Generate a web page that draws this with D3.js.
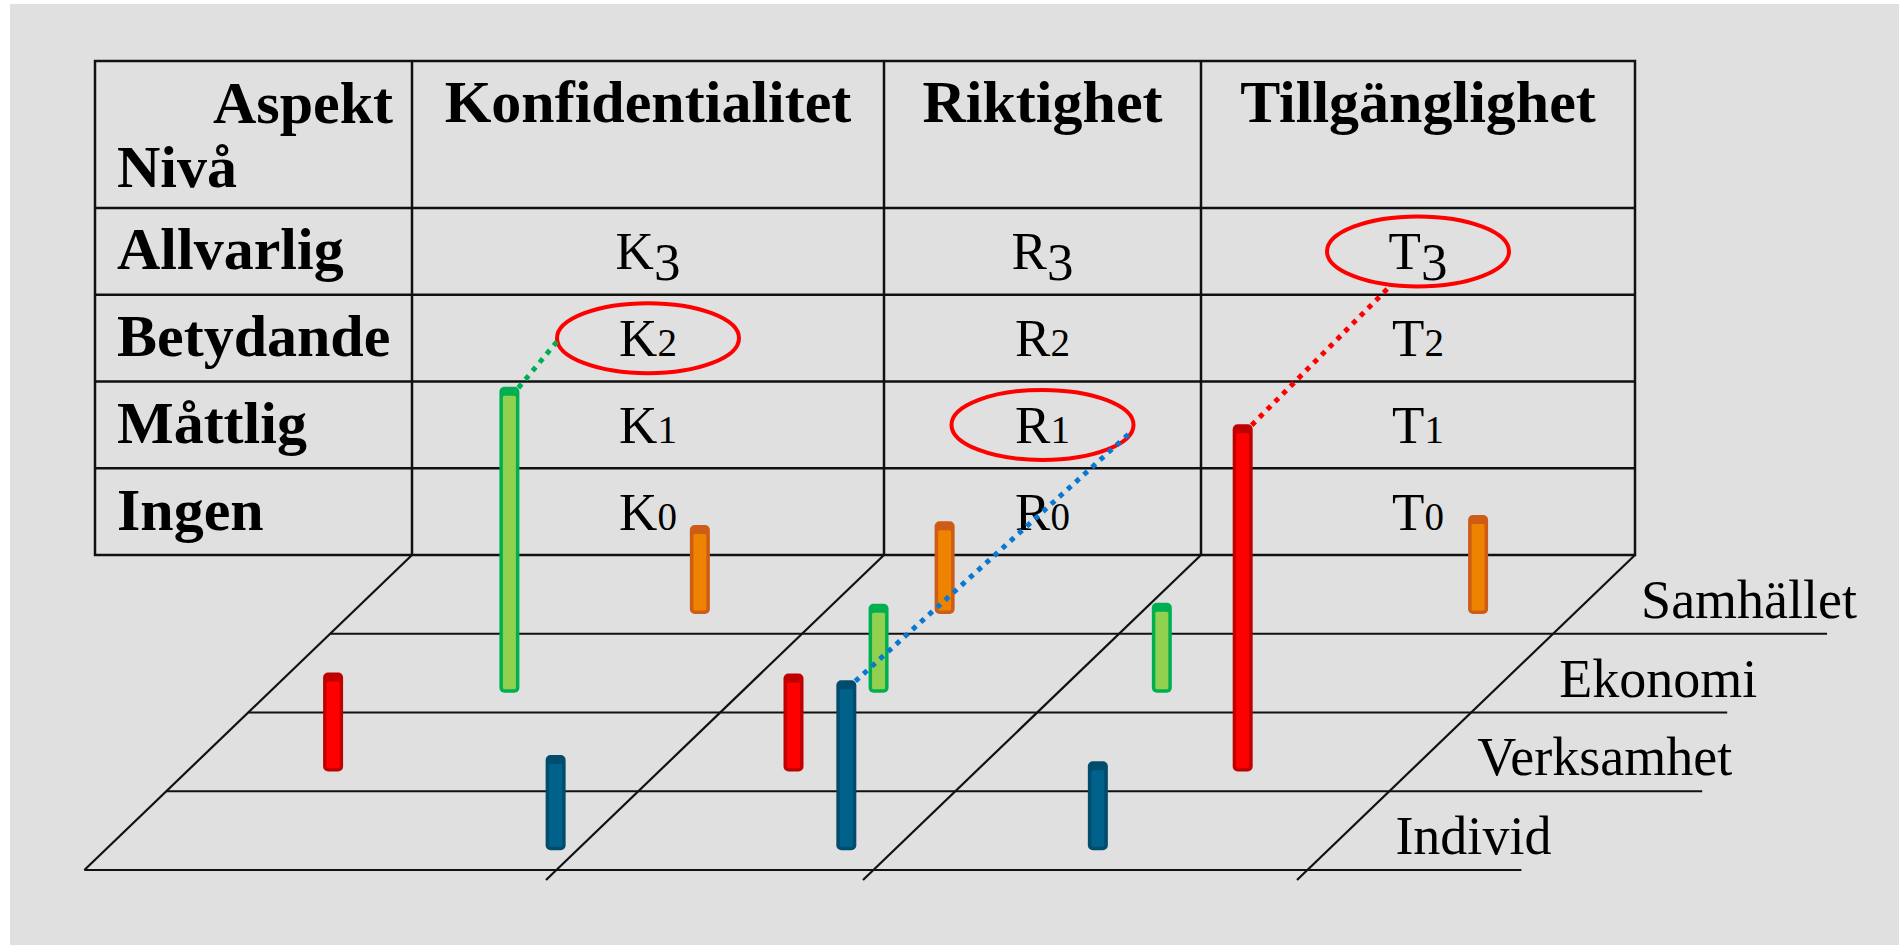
<!DOCTYPE html>
<html>
<head>
<meta charset="utf-8">
<script src="https://cdn.jsdelivr.net/npm/d3@7"></script>
<style>
  body { margin: 0; background: #fff; }
  svg { display: block; }
  text { font-family: "Liberation Serif", "DejaVu Serif", serif; fill: #000; }
</style>
</head>
<body>
<div id="chart"></div>
<script>
const width = 1899, height = 945;

// table: aspects across, levels down
const aspects = ["Konfidentialitet", "Riktighet", "Tillgänglighet"];
const aspectCodes = ["K", "R", "T"];
const levels = ["Allvarlig", "Betydande", "Måttlig", "Ingen"];
const levelNumbers = [3, 2, 1, 0];

// consequence areas on the floor, back to front
const areas = ["Samhället", "Ekonomi", "Verksamhet", "Individ"];

// bars: aspect, area, place across the aspect strip (0-1), size (1 = short bar)
const barAspect = ["K", "K", "K", "K", "R", "R", "R", "R", "T", "T", "T", "T"];
const barArea = ["Samhället", "Ekonomi", "Verksamhet", "Individ",
  "Samhället", "Ekonomi", "Verksamhet", "Individ",
  "Samhället", "Ekonomi", "Verksamhet", "Individ"];
const barPlace = [0.74, 0.51, 0.31, 0.955, 0.385, 0.435, 0.425, 0.85, 0.78, 0.24, 0.615, 0.47];
const barSize = [0.99, 3.4, 1.1, 1.06, 1.03, 0.99, 1.09, 1.89, 1.1, 1.0, 3.86, 0.99];

// circled classifications, the bar they come from, where the dotted line meets the ring (deg)
const markAspect = ["K", "R", "T"];
const markLevel = [2, 1, 3];
const markArea = ["Ekonomi", "Individ", "Verksamhet"];
const markAngle = [175, 10, 107];

const areaFill = { "Samhället": "#ee8300", "Ekonomi": "#92d050", "Verksamhet": "#ff0000", "Individ": "#00618a" };
const areaEdge = { "Samhället": "#cc5c16", "Ekonomi": "#00b050", "Verksamhet": "#c00000", "Individ": "#004c6d" };
const linkColor = { "Ekonomi": "#00b050", "Individ": "#0a78d2", "Verksamhet": "#ff0000" };

const tableLeft = 95, tableTop = 61, headBottom = 208, tableBottom = 555;

const colStart = d3.scaleOrdinal(aspectCodes, [412, 884, 1201]);
const colEnd = d3.scaleOrdinal(aspectCodes, [884, 1201, 1635]);
const colMid = (a) => (colStart(a) + colEnd(a)) / 2;
const rowY = d3.scaleBand().domain(levelNumbers).range([headBottom, tableBottom]);
const rowMid = (l) => rowY(l) + rowY.bandwidth() / 2;

// floor: depth 0 at the table, one unit per area
const depth = d3.scaleLinear().domain([0, areas.length]).range([tableBottom, 870]);
const slant = 1.04;
const floorX = (x, y) => x - slant * (y - tableBottom);
const barH = d3.scaleLinear().domain([0, 1]).range([0, 90]);
const barW = 20;

const svg = d3
  .select("#chart")
  .append("svg")
  .attr("width", width)
  .attr("height", height);

svg
  .append("rect")
  .attr("x", 10)
  .attr("y", 4)
  .attr("width", width - 10)
  .attr("height", height - 4)
  .attr("fill", "#e0e0e0");

// ---- table
const grid = svg.append("g").attr("stroke", "#111").attr("stroke-width", 2.5).attr("fill", "none");
grid.append("rect")
  .attr("x", tableLeft)
  .attr("y", tableTop)
  .attr("width", colEnd("T") - tableLeft)
  .attr("height", tableBottom - tableTop);
grid.selectAll(".vline")
  .data(aspectCodes)
  .enter()
  .append("line")
  .attr("x1", (d) => colStart(d))
  .attr("x2", (d) => colStart(d))
  .attr("y1", tableTop)
  .attr("y2", tableBottom);
grid.selectAll(".hline")
  .data(levelNumbers)
  .enter()
  .append("line")
  .attr("x1", tableLeft)
  .attr("x2", colEnd("T"))
  .attr("y1", (d) => rowY(d))
  .attr("y2", (d) => rowY(d));

const bold = { "font-weight": "bold", "font-size": "60px" };

svg.append("text")
  .attr("x", colStart("K") - 19)
  .attr("y", 123)
  .attr("text-anchor", "end")
  .style("font-weight", "bold").style("font-size", "60px")
  .text("Aspekt");
svg.append("text")
  .attr("x", tableLeft + 22)
  .attr("y", 187)
  .style("font-weight", "bold").style("font-size", "60px")
  .text("Nivå");

svg.selectAll(".head")
  .data(aspects)
  .enter()
  .append("text")
  .attr("x", (d, i) => colMid(aspectCodes[i]))
  .attr("y", 122)
  .attr("text-anchor", "middle")
  .style("font-weight", "bold").style("font-size", "60px")
  .text((d) => d);

svg.selectAll(".level")
  .data(levels)
  .enter()
  .append("text")
  .attr("x", tableLeft + 22)
  .attr("y", (d, i) => rowMid(levelNumbers[i]) + 18)
  .style("font-weight", "bold").style("font-size", "60px")
  .text((d) => d);

// cells, digits set as old-style figures
const cells = [];
aspectCodes.forEach((a) => levelNumbers.forEach((l) => cells.push({ a, l })));
const cell = svg.selectAll(".cell")
  .data(cells)
  .enter()
  .append("text")
  .attr("x", (d) => colMid(d.a))
  .attr("y", (d) => rowMid(d.l) + 18)
  .attr("text-anchor", "middle")
  .style("font-size", "53px");
cell.append("tspan").text((d) => d.a);
cell.append("tspan")
  .attr("dy", (d) => (d.l === 3 ? "0.2em" : null))
  .style("font-size", (d) => (d.l === 3 ? "53px" : "39px"))
  .text((d) => d.l);

// ---- floor
const floor = svg.append("g").attr("stroke", "#111").attr("stroke-width", 2.2).attr("fill", "none");
const edges = [colStart("K"), colStart("R"), colStart("T"), colEnd("T")];
floor.selectAll(".slant")
  .data(edges)
  .enter()
  .append("line")
  .attr("x1", (d) => d)
  .attr("y1", tableBottom)
  .attr("x2", (d, i) => floorX(d, i === 0 ? depth(areas.length) : depth(areas.length) + 10))
  .attr("y2", (d, i) => (i === 0 ? depth(areas.length) : depth(areas.length) + 10));

const areaLabel = svg.selectAll(".area")
  .data(areas)
  .enter()
  .append("text")
  .attr("x", (d, i) => floorX(colEnd("T"), depth(i + 1)) + 88)
  .attr("y", (d, i) => depth(i + 1) - 16)
  .style("font-size", "54px")
  .text((d) => d);

areaLabel.each(function (d, i) {
  const y = depth(i + 1);
  const end = floorX(colEnd("T"), y) + 88 + this.getComputedTextLength() - 30;
  floor.append("line")
    .attr("x1", floorX(colStart("K"), y))
    .attr("x2", end)
    .attr("y1", y)
    .attr("y2", y);
});

// ---- bars
const bars = barAspect.map((a, i) => {
  const k = areas.indexOf(barArea[i]);
  const base = depth(k + 0.75);
  const wallX = colStart(a) + barPlace[i] * (colEnd(a) - colStart(a));
  return {
    a,
    area: barArea[i],
    cx: floorX(wallX, base),
    base,
    top: base - barH(barSize[i]),
  };
});

const bar = svg.append("g")
  .selectAll(".bar")
  .data(bars)
  .enter()
  .append("g");
bar.append("rect")
  .attr("x", (d) => d.cx - barW / 2)
  .attr("y", (d) => d.top)
  .attr("width", barW)
  .attr("height", (d) => d.base - d.top)
  .attr("rx", 5)
  .attr("fill", (d) => areaEdge[d.area]);
bar.append("rect")
  .attr("x", (d) => d.cx - barW / 2 + 3.5)
  .attr("y", (d) => d.top + 9)
  .attr("width", barW - 7)
  .attr("height", (d) => d.base - d.top - 12.5)
  .attr("rx", 1.5)
  .attr("fill", (d) => areaFill[d.area]);

// ---- rings and dotted links
const rx = 91, ry = 35;
svg.append("g")
  .selectAll("ellipse")
  .data(markAspect)
  .enter()
  .append("ellipse")
  .attr("cx", (d) => colMid(d))
  .attr("cy", (d, i) => rowMid(markLevel[i]))
  .attr("rx", rx)
  .attr("ry", ry)
  .attr("fill", "none")
  .attr("stroke", "#ff0000")
  .attr("stroke-width", 4);

const links = markAspect.map((a, i) => {
  const b = bars.find((d) => d.a === a && d.area === markArea[i]);
  const t = (markAngle[i] * Math.PI) / 180;
  return {
    area: markArea[i],
    x1: b.cx + barW / 2 - 1,
    y1: b.top + 1,
    x2: colMid(a) + rx * Math.cos(t),
    y2: rowMid(markLevel[i]) + ry * Math.sin(t),
  };
});

svg.append("g")
  .selectAll("line")
  .data(links)
  .enter()
  .append("line")
  .attr("x1", (d) => d.x1)
  .attr("y1", (d) => d.y1)
  .attr("x2", (d) => d.x2)
  .attr("y2", (d) => d.y2)
  .attr("stroke", (d) => linkColor[d.area])
  .attr("stroke-width", 5)
  .attr("stroke-dasharray", "5 6");
</script>
</body>
</html>
